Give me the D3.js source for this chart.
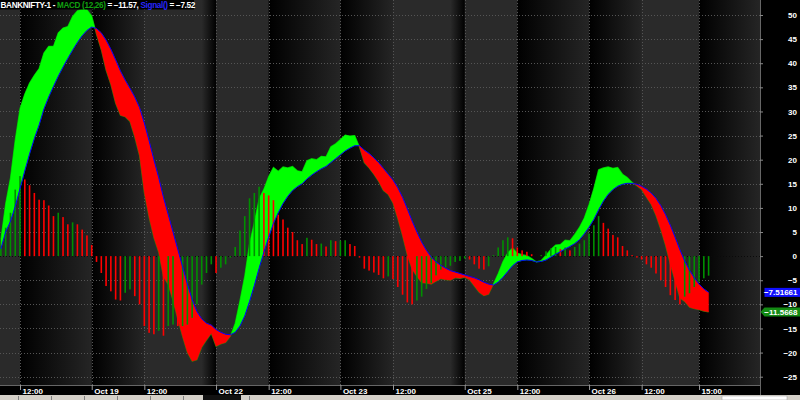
<!DOCTYPE html>
<html><head><meta charset="utf-8">
<script src="https://cdn.jsdelivr.net/npm/d3@7"></script>
<style>
html,body{margin:0;padding:0;background:#000;overflow:hidden}
svg{display:block}
text{font-family:"Liberation Sans",Arial,sans-serif;font-weight:bold}
</style></head><body>
<svg id="c" width="800" height="400"></svg>
<script>
// ---------------- data ----------------
const days = ["Oct 18","Oct 19","Oct 22","Oct 23","Oct 25","Oct 26"];
const times = ["09:15","09:30","09:45","10:00","10:15","10:30","10:45","11:00","11:15","11:30","11:45","12:00",
               "12:15","12:30","12:45","13:00","13:15","13:30","13:45","14:00","14:15","14:30","14:45","15:00","15:15","15:30"];
const firstBar = "Oct 18 11:00";
const macd = [
 3.5,10.9,16.2,24.1,30.6,33.6,35.9,37.5,38.9,42.1,43.5,43.5,46.3,47.3,47.6,49.7,50.9,51.2,51.1,49.8,
 46.0,42.8,38.6,35.6,31.7,29.2,28.9,27.9,24.7,20.8,13.1,8.0,3.8,0.8,-4.3,-5.9,-9.2,-13.1,-16.7,-20.0,-21.8,-21.5,-18.9,-17.4,-16.0,-18.7,-18.2,-17.9,-16.6,
 -13.9,-9.2,-4.1,2.6,7.0,11.9,13.9,16.5,18.4,17.6,18.5,18.3,18.6,17.7,17.5,19.8,20.2,20.0,20.7,20.6,22.7,23.3,24.2,25.1,24.9,25.0,22.6,
 19.4,18.3,17.0,15.5,13.6,12.8,11.0,7.8,4.2,0.2,-2.7,-4.2,-5.5,-5.6,-5.8,-5.2,-4.7,-4.9,-5.0,-4.5,-4.6,-4.4,
 -4.9,-6.2,-7.5,-8.2,-7.9,-5.8,-3.6,-1.1,0.7,1.7,0.6,0.3,0.1,-0.5,-1.2,-0.9,0.2,1.4,2.3,2.4,3.3,3.2,4.5,6.0,7.9,10.7,14.0,17.9,18.3,18.5,
 18.2,18.4,17.0,16.3,15.3,14.6,13.8,12.2,10.7,8.4,5.5,2.2,-1.7,-5.2,-8.7,-9.4,-10.6,-10.9,-11.1,-11.4,-11.5668
];
const signal = [
 1.5,5.0,7.2,10.3,14.0,17.7,21.2,24.4,27.2,30.5,33.0,35.2,37.3,39.2,41.0,42.7,44.3,45.7,46.8,47.5,
 47.2,46.3,44.8,42.9,40.7,38.4,36.5,34.8,33.0,30.8,27.6,23.9,20.0,16.3,12.2,8.6,5.0,1.4,-2.2,-5.8,-9.0,-11.5,-13.0,-13.9,-14.3,-15.2,-15.8,-16.2,-16.3,
 -15.8,-14.5,-12.4,-9.4,-6.1,-2.5,0.8,3.9,6.8,9.0,10.9,12.4,13.6,14.4,15.0,16.0,16.8,17.5,18.1,18.6,19.4,20.2,21.0,21.8,22.4,22.9,22.9,
 22.0,21.3,20.4,19.4,18.2,17.0,15.8,14.2,12.2,9.8,7.3,5.0,2.9,1.2,-0.2,-1.2,-1.9,-2.5,-3.0,-3.3,-3.6,-3.9,
 -4.2,-4.5,-4.9,-5.4,-5.8,-6.0,-5.4,-4.4,-3.2,-2.0,-1.2,-0.9,-0.8,-0.9,-1.2,-1.1,-0.8,-0.2,0.4,0.9,1.5,2.0,2.6,3.4,4.6,6.0,7.6,9.6,11.4,12.8,
 13.8,14.5,14.9,15.1,15.1,14.9,14.5,13.9,13.1,12.0,10.5,8.6,6.4,3.9,1.3,-1.0,-2.9,-4.5,-5.8,-6.8,-7.51661
];
const tickBars = ["Oct 18 12:00","Oct 19 09:15","Oct 19 12:00","Oct 22 09:15","Oct 22 12:00","Oct 23 09:15",
                  "Oct 23 12:00","Oct 25 09:15","Oct 25 12:00","Oct 26 09:15","Oct 26 12:00","Oct 26 15:00"];
const tickLabels = ["12:00","Oct 19","12:00","Oct 22","12:00","Oct 23","12:00","Oct 25","12:00","Oct 26","12:00","15:00"];
const yTicks = [50,45,40,35,30,25,20,15,10,5,0,-5,-10,-15,-20,-25];
const titleName = "BANKNIFTY-1";

// ---------------- layout ----------------
const W = 800, H = 400, plotR = 760, plotB = 385;
const categories = days.flatMap(d => times.map(t => d + " " + t));
const bars = categories.slice(categories.indexOf(firstBar));
const x = d3.scalePoint().domain(categories).range([-32.6, 708.6]);
const y = d3.scaleLinear().domain([-25, 50]).range([376.7, 15]);

const svg = d3.select("#c");
const defs = svg.append("defs");
const gDark = defs.append("linearGradient").attr("id","gDark");
gDark.append("stop").attr("offset",0).attr("stop-color","#000");
gDark.append("stop").attr("offset",1).attr("stop-color","#252525");
const gFade = defs.append("linearGradient").attr("id","gFade");
gFade.append("stop").attr("offset",0).attr("stop-color","#2a2a2a");
gFade.append("stop").attr("offset",1).attr("stop-color","#000");
defs.append("clipPath").attr("id","clip").append("rect").attr("x",0).attr("y",0).attr("width",plotR).attr("height",plotB);

svg.append("rect").attr("width",W).attr("height",H).attr("fill","#000");
const plot = svg.append("g").attr("clip-path","url(#clip)");
plot.append("rect").attr("width",plotR).attr("height",plotB).attr("fill","#2a2a2a");

// session shading bands
const bands = [
  ["Oct 18 12:00","Oct 19 09:15","gDark"],["Oct 19 09:15","Oct 19 12:00","gDark"],
  ["Oct 19 15:00","Oct 22 09:15","gFade"],
  ["Oct 22 12:00","Oct 23 09:15","gDark"],["Oct 23 09:15","Oct 23 12:00","gDark"],
  ["Oct 23 15:00","Oct 25 09:15","gFade"],
  ["Oct 25 12:00","Oct 26 09:15","gDark"],["Oct 26 09:15","Oct 26 12:00","gDark"],
  ["Oct 26 15:00",null,"gDark"]
];
bands.forEach(([a,b,g]) => {
  const x0 = x(a), x1 = b ? x(b) : plotR;
  plot.append("rect").attr("x",x0).attr("y",0).attr("width",x1-x0).attr("height",plotB)
    .attr("fill",`url(#${g})`);
});

// grid
yTicks.forEach(v => {
  plot.append("line").attr("x1",0).attr("x2",plotR)
    .attr("y1",Math.round(y(v))+0.5).attr("y2",Math.round(y(v))+0.5)
    .attr("stroke", v===0 ? "#0a0a0a" : "#555").attr("stroke-dasharray","1 2");
});
tickBars.forEach(c => {
  const xx = Math.round(x(c))+0.5;
  plot.append("line").attr("x1",xx).attr("x2",xx).attr("y1",0).attr("y2",plotB)
    .attr("stroke","#555").attr("stroke-dasharray","1 2");
});

// cloud fill between MACD and signal
const pts = bars.map((c,i) => ({x:x(c), m:macd[i], s:signal[i]}));
const runs = []; let cur = [pts[0]];
for (let i=0;i<pts.length-1;i++){
  const a=pts[i], b=pts[i+1], da=a.m-a.s, db=b.m-b.s;
  if ((da >= 0) !== (db >= 0)){
    const t = da/(da-db);
    const c = {x:a.x+t*(b.x-a.x), m:a.m+t*(b.m-a.m)}; c.s = c.m;
    cur.push(c); runs.push(cur); cur=[c,b];
  } else cur.push(b);
}
runs.push(cur);
const area = d3.area().x(d=>d.x).y0(d=>y(d.s)).y1(d=>y(d.m));
const line = d3.line().x(d=>d.x);
// macd line (under the fill)
plot.append("path").attr("d", line.y(d=>y(d.m))(pts)).attr("fill","none").attr("stroke","#0a8a0a").attr("stroke-width",1.2);
runs.forEach(r => {
  const up = d3.sum(r, d => d.m - d.s) >= 0;
  plot.append("path").attr("d", area(r)).attr("fill", up ? "#00ff00" : "#ff0000")
    .attr("stroke", up ? "#00ff00" : "#ff0000").attr("stroke-width",0.4);
});

// histogram
const hist = macd.map((m,i) => m - signal[i]);
plot.selectAll("rect.h").data(bars).join("rect").attr("class","h")
  .attr("x", c => x(c)-0.8).attr("width",1.6)
  .attr("y", (c,i) => Math.min(y(0), y(hist[i])))
  .attr("height", (c,i) => Math.abs(y(hist[i]) - y(0)))
  .attr("fill", (c,i) => (i>0 && hist[i] < hist[i-1]) ? "#ff0000" : "#009000");

// signal line
plot.append("path").attr("d", d3.line().x(d=>d.x).y(d=>y(d.s))(pts)).attr("fill","none").attr("stroke","#0000ff").attr("stroke-width",1);

// ---------------- axes ----------------
svg.append("line").attr("x1",plotR+0.5).attr("x2",plotR+0.5).attr("y1",0).attr("y2",395).attr("stroke","#666");
svg.append("line").attr("x1",0).attr("x2",plotR).attr("y1",plotB+0.5).attr("y2",plotB+0.5).attr("stroke","#666");

const ya = svg.append("g").attr("transform",`translate(${plotR},0)`)
  .call(d3.axisRight(y).tickValues(yTicks).tickSize(3).tickFormat(d3.format("d")));
ya.select(".domain").remove();
ya.selectAll(".tick line").attr("stroke","#888");
ya.selectAll(".tick text").attr("x",37).attr("text-anchor","end").attr("fill","#fff")
  .attr("font-size","8px").attr("font-family","Liberation Sans, Arial").attr("font-weight","bold");

const xa = svg.append("g").attr("transform",`translate(0,${plotB})`)
  .call(d3.axisBottom(x).tickValues(tickBars).tickSize(5).tickFormat((d,i)=>tickLabels[i]));
xa.select(".domain").remove();
xa.selectAll(".tick line").attr("stroke","#999");
xa.selectAll(".tick text").attr("text-anchor","start").attr("x",2).attr("y",3).attr("dy","0.71em").attr("fill","#fff")
  .attr("font-size","8px").attr("font-family","Liberation Sans, Arial").attr("font-weight","bold");

// bottom window strip
svg.append("rect").attr("x",0).attr("y",395).attr("width",W).attr("height",5).attr("fill","#d4d0c8");
d3.range(8).forEach(k => svg.append("line").attr("x1",18+k*33+0.5).attr("x2",18+k*33+0.5).attr("y1",396).attr("y2",400).attr("stroke","#808080"));
svg.append("rect").attr("x",203).attr("y",395).attr("width",38).attr("height",5).attr("fill","#111");
svg.append("rect").attr("x",722).attr("y",396).attr("width",65).attr("height",4).attr("fill","#fff").attr("stroke","#999").attr("stroke-width",0.5);

// value labels
const lastM = macd[macd.length-1], lastS = signal[signal.length-1];
const fmt = d3.format(".6~g");
const ys = y(lastS), ym = y(lastM);
svg.append("rect").attr("x",764.5).attr("y",ys-4.5).attr("width",36).attr("height",9).attr("fill","#1010ff");
svg.append("text").attr("x",797.5).attr("y",ys+3).attr("text-anchor","end").attr("fill","#fff").attr("font-size","8px").text(fmt(lastS));
svg.append("path").attr("d",`M760.5,${ym} L764.5,${ym-4.5} L800,${ym-4.5} L800,${ym+4.5} L764.5,${ym+4.5} Z`).attr("fill","#138a13");
svg.append("text").attr("x",797.5).attr("y",ym+3).attr("text-anchor","end").attr("fill","#fff").attr("font-size","8px").text(fmt(lastM));

// title (one text element, coloured spans)
svg.append("rect").attr("x",0).attr("y",0).attr("width",194).attr("height",9.5).attr("fill","#000");
const f2 = d3.format(".2f");
const title = svg.append("text").attr("x",0.5).attr("y",8.2).attr("font-size","8.2px").attr("letter-spacing","-0.35px");
[
  [titleName + " - ", "#fff"],
  ["MACD (12,26)", "#11a011"],
  [" = " + f2(lastM) + ", ", "#fff"],
  ["Signal()", "#2828ff"],
  [" = " + f2(lastS), "#fff"]
].forEach(([t,col]) => title.append("tspan").attr("fill",col).text(t));
</script>
</body></html>
